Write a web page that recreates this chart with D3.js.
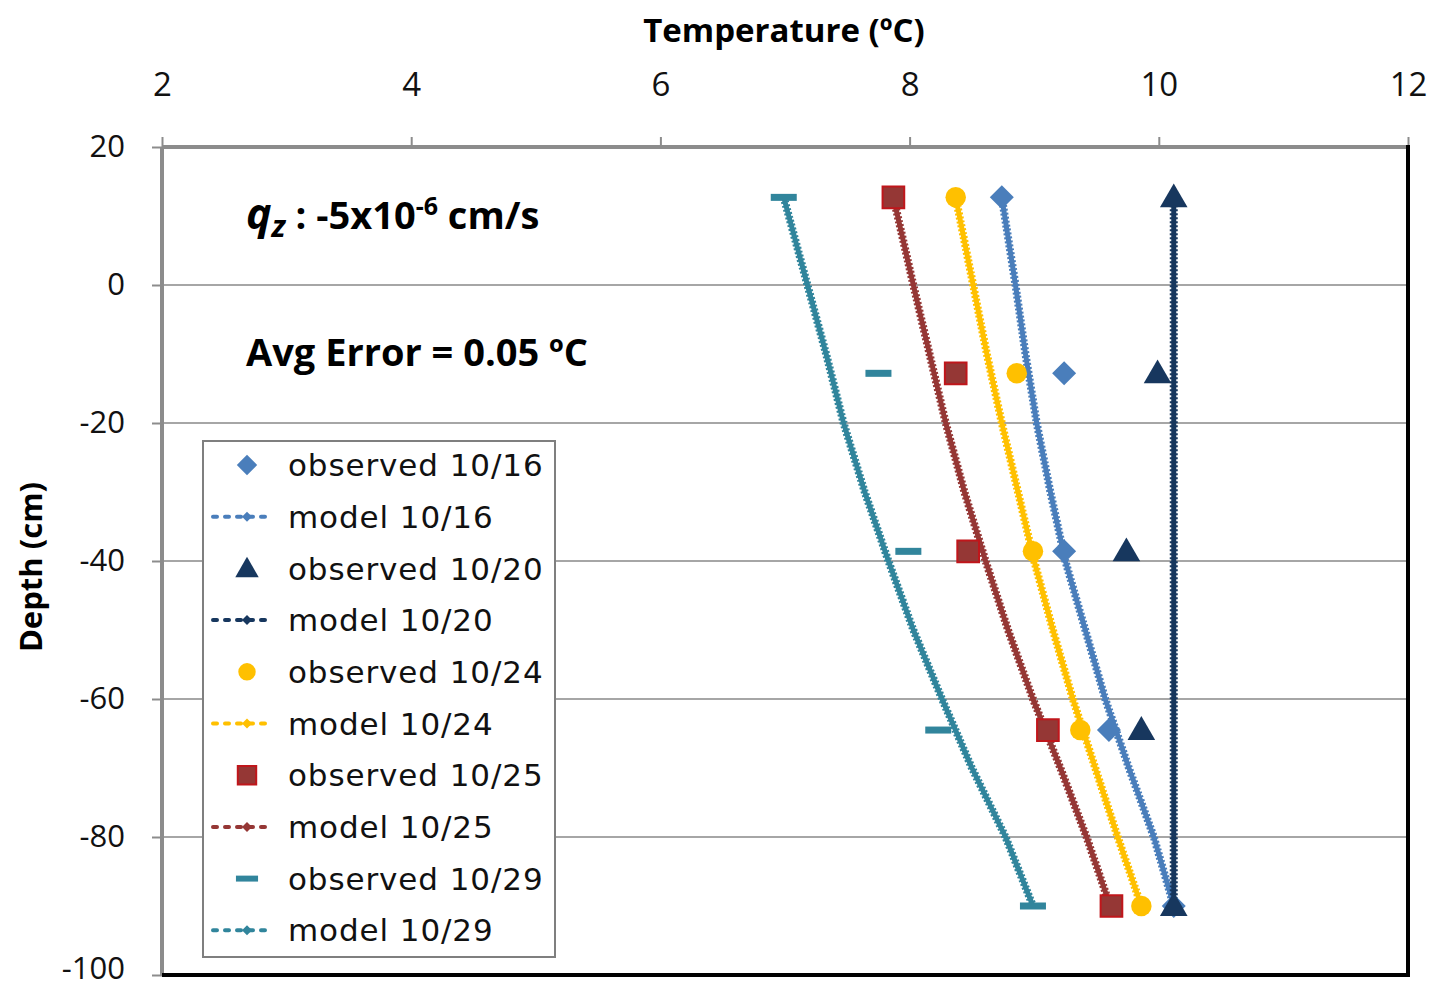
<!DOCTYPE html>
<html>
<head>
<meta charset="utf-8">
<script src="https://cdn.jsdelivr.net/npm/d3@7"></script>
<style>
  body { margin: 0; background: #fff; }
  svg { display: block; }
  .tick text { font-family: "Open Sans", sans-serif; }
</style>
</head>
<body>
<div id="chart"></div>
<script>
// observed depths (cm) and temperatures (C)
var obsDepth = [12.7, -12.8, -38.6, -64.5, -90];
var obs1016 = [8.74, 9.24, 9.24, 9.60, 10.12];
var obs1020 = [10.12, 9.99, 9.74, 9.86, 10.12];
var obs1024 = [8.37, 8.86, 8.99, 9.37, 9.86];
var obs1025 = [7.87, 8.37, 8.47, 9.11, 9.62];
var obs1029 = [6.99, 7.75, 7.99, 8.23, 8.99];

// model profiles
var modDepth = [12.7, 0, -10, -20, -30, -40, -50, -60, -70, -80, -90];
var mod1016 = [8.74, 8.85, 8.93, 9.02, 9.13, 9.25, 9.41, 9.57, 9.76, 9.96, 10.12];
var mod1020 = [10.12, 10.12, 10.12, 10.12, 10.12, 10.12, 10.12, 10.12, 10.12, 10.12, 10.12];
var mod1024 = [8.37, 8.51, 8.62, 8.74, 8.87, 9.00, 9.15, 9.31, 9.49, 9.67, 9.86];
var mod1025 = [7.87, 8.03, 8.16, 8.29, 8.44, 8.61, 8.79, 8.99, 9.21, 9.42, 9.61];
var mod1029 = [6.99, 7.18, 7.33, 7.47, 7.64, 7.83, 8.03, 8.26, 8.50, 8.77, 8.99];

var xTicks = [2, 4, 6, 8, 10, 12];
var yTicks = [20, 0, -20, -40, -60, -80, -100];

var series = [
    {name: "10/16", obs: obs1016, mod: mod1016, color: "#4a7ebb", shape: "diamond"},
    {name: "10/20", obs: obs1020, mod: mod1020, color: "#17375e", shape: "triangle"},
    {name: "10/24", obs: obs1024, mod: mod1024, color: "#ffc000", shape: "circle"},
    {name: "10/25", obs: obs1025, mod: mod1025, color: "#953735", shape: "square"},
    {name: "10/29", obs: obs1029, mod: mod1029, color: "#31859c", shape: "dash"}
];
var drawOrder = [4, 3, 2, 0, 1];

var width = 1436, height = 991;
var margin = {top: 147, right: 28, bottom: 16, left: 162};

var x = d3.scaleLinear().domain([2, 12]).range([margin.left, width - margin.right]);
var y = d3.scaleLinear().domain([20, -100]).range([margin.top, height - margin.bottom]);

var svg = d3.select("#chart").append("svg")
    .attr("width", width)
    .attr("height", height);

// gridlines
svg.append("g")
    .selectAll("line")
    .data(yTicks.filter(function(d) { return d < 20 && d > -100; }))
    .enter().append("line")
    .attr("x1", x.range()[0]).attr("x2", x.range()[1])
    .attr("y1", function(d) { return y(d); })
    .attr("y2", function(d) { return y(d); })
    .attr("stroke", "#a6a6a6")
    .attr("stroke-width", 2);

// axes
var plain = function(d) { return String(d); };
var xAxis = svg.append("g")
    .attr("transform", "translate(0," + y(20) + ")")
    .call(d3.axisTop(x).tickValues(xTicks).tickFormat(plain).tickSize(10).tickPadding(41));
var yAxis = svg.append("g")
    .attr("transform", "translate(" + x(2) + ",0)")
    .call(d3.axisLeft(y).tickValues(yTicks).tickFormat(plain).tickSize(10).tickPadding(27));

[xAxis, yAxis].forEach(function(a) {
    a.select(".domain").remove();
    a.selectAll(".tick line").attr("stroke", "#8c8c8c").attr("stroke-width", 2);
    a.selectAll(".tick text")
        .attr("fill", "#111")
        .style("font-size", "33px");
});
yAxis.selectAll(".tick text")
    .attr("dy", function(d) { return d === -100 ? "0.12em" : "0.3em"; })
    .style("font-size", "31px");

// frame: gray top/left, black right/bottom
svg.append("line")
    .attr("x1", x(2)).attr("x2", x(12)).attr("y1", y(20)).attr("y2", y(20))
    .attr("stroke", "#8c8c8c").attr("stroke-width", 4);
svg.append("line")
    .attr("x1", x(2)).attr("x2", x(2)).attr("y1", y(20)).attr("y2", y(-100))
    .attr("stroke", "#8c8c8c").attr("stroke-width", 4);
svg.append("line")
    .attr("x1", x(12)).attr("x2", x(12)).attr("y1", y(20) - 2).attr("y2", y(-100) + 2)
    .attr("stroke", "#000").attr("stroke-width", 4);
svg.append("line")
    .attr("x1", x(2)).attr("x2", x(12) + 2).attr("y1", y(-100)).attr("y2", y(-100))
    .attr("stroke", "#000").attr("stroke-width", 4);

// axis titles
svg.append("text")
    .attr("x", 784).attr("y", 42)
    .attr("text-anchor", "middle")
    .style("font-family", "'Open Sans', sans-serif")
    .style("font-weight", "bold")
    .style("font-size", "33px")
    .text("Temperature (ºC)");
svg.append("text")
    .attr("transform", "translate(42," + 567 + ") rotate(-90)")
    .attr("text-anchor", "middle")
    .style("font-family", "'Open Sans', sans-serif")
    .style("font-weight", "bold")
    .style("font-size", "31px")
    .text("Depth (cm)");

// marker drawer
function marker(g, shape, color, cx, cy, scale) {
    scale = scale || 1;
    if (shape === "dash") {
        g.append("rect")
            .attr("x", cx - 13 * scale).attr("y", cy - 3.5 * scale)
            .attr("width", 26 * scale).attr("height", 7 * scale)
            .attr("fill", color);
        return;
    }
    if (shape === "diamond") {
        var h = 12 * scale;
        g.append("path")
            .attr("d", "M0," + (-h) + "L" + h + ",0L0," + h + "L" + (-h) + ",0Z")
            .attr("transform", "translate(" + cx + "," + cy + ")")
            .attr("fill", color);
        return;
    }
    var types = {triangle: d3.symbolTriangle, circle: d3.symbolCircle, square: d3.symbolSquare};
    var sizes = {triangle: 330, circle: 330, square: 470};
    var p = g.append("path")
        .attr("d", d3.symbol().type(types[shape]).size(sizes[shape] * scale * scale)())
        .attr("transform", "translate(" + cx + "," + (cy + (shape === "triangle" ? 2 : 0)) + ")")
        .attr("fill", color);
    if (shape === "square") p.attr("stroke", "#c0161b").attr("stroke-width", 2);
}

var line = d3.line()
    .x(function(d) { return x(d[0]); })
    .y(function(d) { return y(d[1]); });

// model lines
drawOrder.forEach(function(i) {
    var s = series[i];
    var pts = s.mod.map(function(v, k) { return [v, modDepth[k]]; });
    svg.append("path").datum(pts)
        .attr("d", line).attr("fill", "none")
        .attr("stroke", s.color).attr("stroke-width", 5)
        .attr("stroke-linejoin", "round");
    svg.append("path").datum(pts)
        .attr("d", line).attr("fill", "none")
        .attr("stroke", s.color).attr("stroke-width", 8)
        .attr("stroke-dasharray", "2,2");
});

// observed markers
drawOrder.forEach(function(i) {
    var s = series[i];
    var g = svg.append("g");
    s.obs.forEach(function(v, k) {
        marker(g, s.shape, s.color, x(v), y(obsDepth[k]));
    });
});

// annotations
var ann = svg.append("text")
    .attr("x", 246).attr("y", 229)
    .style("font-family", "'Open Sans', sans-serif")
    .style("font-weight", "bold")
    .style("font-size", "38px");
ann.append("tspan").style("font-style", "italic").style("font-size", "43px").text("q");
ann.append("tspan").style("font-style", "italic").attr("dy", 8).style("font-size", "31px").text("z");
ann.append("tspan").attr("dy", -8).text(" : -5x10");
ann.append("tspan").attr("dy", -14).style("font-size", "25px").text("-6");
ann.append("tspan").attr("dy", 14).text(" cm/s");

svg.append("text")
    .attr("x", 246).attr("y", 366)
    .style("font-family", "'Open Sans', sans-serif")
    .style("font-weight", "bold")
    .style("font-size", "38px")
    .text("Avg Error = 0.05 ºC");

// legend
var lg = svg.append("g").attr("transform", "translate(203,441)");
lg.append("rect")
    .attr("width", 352).attr("height", 516)
    .attr("fill", "#fff")
    .attr("stroke", "#7f7f7f").attr("stroke-width", 2);
var rowH = 51.7;
series.forEach(function(s, i) {
    var ry1 = 24 + rowH * (2 * i);
    var ry2 = ry1 + rowH;
    marker(lg, s.shape, s.color, 44, ry1, 0.85);
    lg.append("text")
        .attr("x", 85).attr("y", ry1).attr("dy", "0.36em")
        .style("font-family", "'DejaVu Sans', sans-serif")
        .style("font-size", "31px")
        .style("letter-spacing", "0.9px")
        .attr("fill", "#111")
        .text("observed " + s.name);
    lg.append("line")
        .attr("x1", 10).attr("x2", 68).attr("y1", ry2).attr("y2", ry2)
        .attr("stroke", s.color).attr("stroke-width", 4)
        .attr("stroke-dasharray", "4,8").attr("stroke-linecap", "round");
    lg.append("path")
        .attr("d", "M0,-5L5,0L0,5L-5,0Z")
        .attr("transform", "translate(44," + ry2 + ")")
        .attr("fill", s.color);
    lg.append("text")
        .attr("x", 85).attr("y", ry2).attr("dy", "0.36em")
        .style("font-family", "'DejaVu Sans', sans-serif")
        .style("font-size", "31px")
        .style("letter-spacing", "0.9px")
        .attr("fill", "#111")
        .text("model " + s.name);
});
</script>
</body>
</html>
